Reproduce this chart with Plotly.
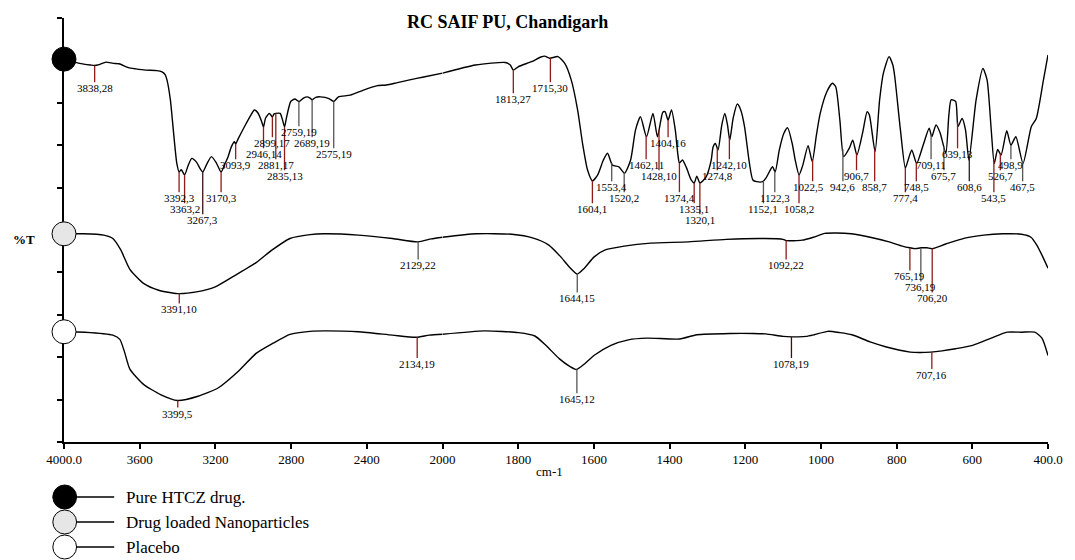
import numpy as np
import plotly.graph_objects as go

# ---------------- DATA ----------------
top_wn = [4000, 3918, 3860, 3839, 3815, 3778, 3740, 3709, 3660, 3621,
          3569, 3510, 3482, 3465, 3456, 3438, 3421, 3404, 3392, 3380,
          3363, 3345, 3325, 3300, 3280, 3267, 3245, 3221, 3195, 3170,
          3150, 3133, 3116, 3100, 3093, 3080, 3046, 3015, 2994, 2975,
          2955, 2946, 2935, 2915, 2899, 2890, 2881, 2858, 2845, 2835,
          2825, 2802, 2780, 2759, 2735, 2715, 2700, 2689, 2670, 2645,
          2600, 2575, 2550, 2488, 2418, 2349, 2297, 2244, 2174, 2100,
          2000, 1913, 1834, 1821, 1813, 1800, 1765, 1740, 1730, 1717,
          1695, 1677, 1660, 1643, 1630, 1617, 1604, 1590, 1575, 1564,
          1551, 1534, 1519, 1503, 1490, 1477, 1461, 1444, 1432, 1418,
          1412, 1404, 1395, 1385, 1378, 1374, 1366, 1355, 1343, 1335,
          1328, 1320, 1310, 1303, 1290, 1285, 1279, 1272, 1262, 1254,
          1247, 1241, 1232, 1221, 1212, 1202, 1189, 1180, 1170, 1154,
          1145, 1128, 1121, 1110, 1098, 1088, 1076, 1068, 1058, 1048,
          1034, 1023, 1012, 1002, 985, 970, 961, 950, 940, 925,
          916, 905, 890, 878, 872, 857, 845, 835, 820, 810,
          805, 790, 777, 768, 760, 747, 730, 714, 707, 696,
          685, 670, 662, 656, 644, 638, 627, 618, 609, 590,
          572, 561, 550, 542, 533, 524, 509, 498, 485, 466,
          444, 431, 412, 400]
top_t = [90.3, 89.3, 88.9, 88.8, 89.0, 89.6, 89.3, 89.2, 88.3, 88.0,
         87.7, 87.6, 87.3, 86.6, 85.4, 80.7, 72.9, 65.7, 63.7, 64.2,
         63.0, 65.1, 66.9, 66.0, 64.4, 63.7, 65.6, 67.3, 65.8, 63.7,
         65.6, 67.3, 69.6, 70.8, 70.3, 71.5, 74.4, 76.9, 78.3, 77.6,
         75.5, 74.3, 76.4, 77.5, 76.7, 77.4, 77.5, 77.5, 75.9, 74.3,
         76.4, 80.3, 80.9, 80.3, 81.1, 81.4, 81.1, 80.7, 81.3, 81.4,
         81.0, 80.3, 81.4, 81.8, 83.0, 84.0, 84.2, 84.7, 85.4, 86.1,
         87.0, 88.9, 89.5, 88.9, 87.7, 88.5, 89.7, 90.8, 91.0, 90.5,
         90.9, 89.3, 85.4, 78.3, 70.4, 64.2, 61.6, 63.0, 66.5, 68.1,
         65.3, 64.9, 63.4, 66.5, 73.6, 76.7, 72.0, 77.5, 72.0, 77.8,
         77.9, 75.9, 78.3, 73.6, 67.7, 65.8, 66.5, 64.6, 61.8, 61.1,
         62.7, 61.1, 61.8, 62.6, 66.5, 69.6, 70.4, 68.9, 74.8, 77.5,
         74.8, 71.2, 76.4, 79.7, 78.3, 74.4, 65.7, 61.8, 61.4, 61.4,
         62.3, 64.9, 63.7, 68.9, 72.8, 74.1, 70.4, 66.5, 63.0, 65.3,
         69.9, 66.1, 72.4, 77.5, 82.5, 84.6, 83.8, 75.9, 67.3, 69.3,
         71.2, 67.7, 72.9, 77.9, 77.1, 68.5, 80.7, 87.0, 90.9, 88.9,
         86.2, 73.6, 64.6, 67.0, 68.9, 65.7, 70.0, 74.0, 72.0, 74.8,
         72.9, 68.1, 77.1, 80.7, 80.3, 74.4, 76.3, 73.6, 66.5, 80.7,
         88.1, 85.4, 73.6, 65.7, 69.0, 67.7, 73.4, 70.0, 72.0, 65.7,
         74.4, 76.3, 85.4, 91.3]

mid_wn = [4000, 3900, 3790, 3742, 3700, 3652, 3580, 3500, 3400, 3300,
          3201, 3100, 2985, 2900, 2806, 2700, 2626, 2445, 2265, 2130,
          2060, 2000, 1911, 1817, 1760, 1720, 1690, 1665, 1644, 1625,
          1600, 1570, 1520, 1450, 1350, 1250, 1150, 1100, 1092, 1050,
          1020, 990, 960, 920, 870, 820, 785, 765, 750, 736,
          720, 706, 670, 620, 570, 520, 470, 445, 430, 415, 400]
mid_t = [49.1, 49.1, 48.8, 48.0, 45.3, 40.7, 37.4, 35.8, 35.0, 35.4,
         36.6, 39.2, 42.3, 45.3, 48.0, 48.9, 49.1, 48.8, 48.0, 47.2,
         47.9, 48.3, 49.1, 49.0, 48.1, 46.5, 43.9, 41.3, 39.6, 41.0,
         43.6, 45.3, 46.2, 46.9, 47.2, 47.8, 48.0, 47.8, 47.5, 47.6,
         48.3, 49.2, 49.3, 49.1, 48.3, 47.2, 46.2, 45.8, 45.6, 45.8,
         45.8, 45.6, 46.7, 48.1, 48.8, 49.1, 49.0, 48.3, 46.5, 43.9, 41.0]

bot_wn = [4000, 3890, 3742, 3705, 3680, 3652, 3580, 3490, 3400, 3292,
          3184, 3076, 2985, 2895, 2806, 2700, 2626, 2445, 2265, 2140,
          2070, 2000, 1889, 1799, 1756, 1727, 1691, 1665, 1646, 1625,
          1600, 1555, 1509, 1460, 1373, 1328, 1237, 1180, 1146, 1100,
          1077, 1040, 1018, 982, 950, 918, 870, 827, 764, 740,
          710, 680, 644, 599, 550, 508, 470, 435, 416, 400]
bot_t = [26.0, 25.9, 25.2, 24.2, 21.2, 17.2, 13.6, 11.2, 9.8, 10.8,
         12.8, 16.8, 20.9, 23.3, 25.4, 26.1, 26.2, 26.0, 25.2, 24.7,
         25.2, 25.4, 26.2, 25.8, 25.0, 22.8, 19.6, 17.9, 17.1, 18.4,
         20.4, 22.8, 24.1, 24.5, 24.3, 25.3, 25.6, 25.6, 25.5, 24.9,
         24.8, 24.9, 25.3, 26.1, 25.8, 25.3, 23.6, 22.4, 21.2, 21.1,
         21.2, 21.5, 22.0, 22.8, 24.5, 25.9, 25.9, 25.9, 24.5, 20.4]

# peak picks
top_peak_wn = [3838, 3392, 3363, 3267, 3170, 3093, 2946, 2899, 2881, 2835,
               2759, 2689, 2575, 1813, 1715, 1604, 1553, 1520, 1462, 1428,
               1404, 1374, 1335, 1320, 1274, 1242, 1152, 1122, 1058, 1022,
               942, 906, 858, 777, 748, 709, 675, 639, 608, 543, 526, 498, 467]
top_peak_labels = ["3838,28", "3392,3", "3363,2", "3267,3", "3170,3", "3093,9", "2946,14",
                   "2899,17", "2881,17", "2835,13", "2759,19", "2689,19", "2575,19",
                   "1813,27", "1715,30", "1604,1", "1553,4", "1520,2", "1462,11", "1428,10",
                   "1404,16", "1374,4", "1335,1", "1320,1", "1274,8", "1242,10", "1152,1",
                   "1122,3", "1058,2", "1022,5", "942,6", "906,7", "858,7", "777,4", "748,5",
                   "709,11", "675,7", "639,13", "608,6", "543,5", "526,7", "498,9", "467,5"]
mid_peak_wn = [3391, 2129, 1644, 1092, 765, 736, 706]
mid_peak_labels = ["3391,10", "2129,22", "1644,15", "1092,22", "765,19", "736,19", "706,20"]
bot_peak_wn = [3399, 2134, 1645, 1078, 707]
bot_peak_labels = ["3399,5", "2134,19", "1645,12", "1078,19", "707,16"]

x_ticks_hi = [4000, 3600, 3200, 2800, 2400, 2000]
x_ticktext_hi = ["4000.0", "3600", "3200", "2800", "2400", "2000"]
x_ticks_lo = [1800, 1600, 1400, 1200, 1000, 800, 600, 400]
x_ticktext_lo = ["1800", "1600", "1400", "1200", "1000", "800", "600", "400.0"]

series_names = ["Pure HTCZ drug.", "Drug loaded Nanoparticles", "Placebo"]
title_text = "RC SAIF PU, Chandigarh"

# ---------------- STYLE / LAYOUT ----------------
RED = "#8e1b1b"
GRY = "#555555"
top_label_rows = [0, 10, 11, 12, 10, 7, 6, 5, 7, 8, 4, 5, 6, 1, 0, 11, 9, 10, 7, 8,
                  5, 10, 11, 12, 8, 7, 11, 10, 11, 9, 9, 8, 9, 10, 9, 7, 8, 6, 9, 10, 8, 7, 9]
top_label_dx = {1022: -4}
top_marker_colors = [RED, RED, RED, "#3a1010", RED, RED, RED, RED, RED, RED,
                     GRY, GRY, GRY, RED, RED, RED, GRY, GRY, RED, RED,
                     RED, RED, RED, RED, RED, RED, GRY, GRY, RED, RED,
                     GRY, RED, RED, RED, RED, GRY, GRY, RED, "#222222", RED, RED, GRY, GRY]
mid_label_rows = [4, 0, 3, 0, 1, 2, 3]
mid_marker_colors = [RED, GRY, GRY, RED, RED, GRY, RED]
bot_label_rows = [4.5, 0, 3.2, 0, 1]
bot_marker_colors = [RED, RED, GRY, "#3a1010", RED]

W, H = 1075, 560
L, R, T, B = 64.3, 1058.3, 18.0, 442.0
BREAK = 2000
SPLIT = (446.7 - L) / (R - L)
FONT = "Liberation Serif"


def to_v(ypx):
    return (B - ypx) / (B - T) * 100.0


def px_x(xp):
    return (xp - L) / (R - L)


def px_y(yp):
    return (B - yp) / (B - T)


def axis_of(w):
    return "x" if w >= BREAK else "x2"


fig = go.Figure()


def add_spectrum(wn, t):
    wn = np.array(wn, float)
    t = np.array(t, float)
    hi = wn >= BREAK
    lo = wn <= BREAK
    for mask, ax in ((hi, "x"), (lo, "x2")):
        fig.add_trace(go.Scatter(
            x=wn[mask], y=t[mask], xaxis=ax, yaxis="y", mode="lines",
            line=dict(color="black", width=1.4, shape="spline", smoothing=0.6),
            hoverinfo="skip", showlegend=False))


def add_peaks(spec_wn, spec_t, pk_wn, pk_lab, rows, colors, base_px, step_px=11.0, dx=None):
    dx = dx or {}
    sw = np.array(spec_wn[::-1], float)
    st = np.array(spec_t[::-1], float)
    groups = {}
    for w, lab, r, c in zip(pk_wn, pk_lab, rows, colors):
        ytop = float(np.interp(w, sw, st))
        ylab_px = base_px + step_px * r
        ybot = to_v(ylab_px - 6)
        ax = axis_of(w)
        gx, gy = groups.setdefault((c, ax), ([], []))
        gx += [w, w, None]
        gy += [ytop, ybot, None]
        fig.add_annotation(x=w, y=to_v(ylab_px), xref=ax, yref="y", text=lab,
                           showarrow=False, xanchor="center", yanchor="middle",
                           xshift=dx.get(w, 0),
                           font=dict(family=FONT, size=11, color="black"))
    for (c, ax), (gx, gy) in groups.items():
        fig.add_trace(go.Scatter(x=gx, y=gy, xaxis=ax, yaxis="y", mode="lines",
                                 line=dict(color=c, width=1.3),
                                 hoverinfo="skip", showlegend=False))


add_spectrum(top_wn, top_t)
add_spectrum(mid_wn, mid_t)
add_spectrum(bot_wn, bot_t)

add_peaks(top_wn, top_t, top_peak_wn, top_peak_labels, top_label_rows, top_marker_colors, 88.3,
          dx=top_label_dx)
add_peaks(mid_wn, mid_t, mid_peak_wn, mid_peak_labels, mid_label_rows, mid_marker_colors, 265.4)
add_peaks(bot_wn, bot_t, bot_peak_wn, bot_peak_labels, bot_label_rows, bot_marker_colors, 364.0)

# circles at the start of each spectrum (on the %T axis)
fills = ["black", "#e6e6e6", "white"]
for spec_wn, spec_t, fc in ((top_wn, top_t, fills[0]), (mid_wn, mid_t, fills[1]), (bot_wn, bot_t, fills[2])):
    fig.add_trace(go.Scatter(x=[spec_wn[0]], y=[spec_t[0]], xaxis="x", yaxis="y", mode="markers",
                             marker=dict(size=24, color=fc, line=dict(color="black", width=1)),
                             cliponaxis=False, hoverinfo="skip", showlegend=False))

common = dict(showline=True, linecolor="black", linewidth=1.6, ticks="outside", ticklen=5,
              tickwidth=1.5, tickcolor="black", showgrid=False, zeroline=False,
              tickfont=dict(family=FONT, size=13, color="black"), fixedrange=True,
              layer="below traces")

fig.update_layout(
    width=W, height=H,
    margin=dict(l=L, r=W - R, t=T, b=H - B, pad=0),
    paper_bgcolor="white", plot_bgcolor="white",
    showlegend=False,
    xaxis=dict(domain=[0, SPLIT], range=[4000, 2000], tickvals=x_ticks_hi,
               ticktext=x_ticktext_hi, anchor="y", **common),
    xaxis2=dict(domain=[SPLIT, 1], range=[2000, 400], tickvals=x_ticks_lo,
                ticktext=x_ticktext_lo, anchor="y", **common),
    yaxis=dict(domain=[0, 1], range=[0, 100], tickvals=list(range(0, 101, 10)),
               showticklabels=False, anchor="x", **common),
)

# title, axis titles
fig.add_annotation(x=px_x(512.5), y=px_y(21.5), xref="paper", yref="paper",
                   text="<b>" + title_text + "</b>", showarrow=False,
                   xanchor="center", yanchor="middle",
                   font=dict(family=FONT, size=18, color="black"))
fig.add_annotation(x=px_x(24), y=px_y(239), xref="paper", yref="paper", text="<b>%T</b>",
                   showarrow=False, xanchor="center", yanchor="middle",
                   font=dict(family=FONT, size=13, color="black"))
fig.add_annotation(x=px_x(555), y=px_y(472), xref="paper", yref="paper", text="cm-1",
                   showarrow=False, xanchor="center", yanchor="middle",
                   font=dict(family=FONT, size=13, color="black"))

# legend drawn below the plot
leg_rows = [497, 522, 547]
rad = 12
for yrow, fc, name in zip(leg_rows, fills, series_names):
    fig.add_shape(type="circle", xref="paper", yref="paper",
                  x0=px_x(65 - rad), x1=px_x(65 + rad), y0=px_y(yrow + rad), y1=px_y(yrow - rad),
                  fillcolor=fc, line=dict(color="black", width=1))
    fig.add_shape(type="line", xref="paper", yref="paper",
                  x0=px_x(65 + rad), x1=px_x(115), y0=px_y(yrow), y1=px_y(yrow),
                  line=dict(color="black", width=1.5))
    fig.add_annotation(x=px_x(125), y=px_y(yrow), xref="paper", yref="paper", text=name,
                       showarrow=False, xanchor="left", yanchor="middle",
                       font=dict(family=FONT, size=17, color="black"))

fig.write_html("out.html", config={"displayModeBar": False},
               post_script="document.body.style.margin='0px';document.body.style.overflow='hidden';")
